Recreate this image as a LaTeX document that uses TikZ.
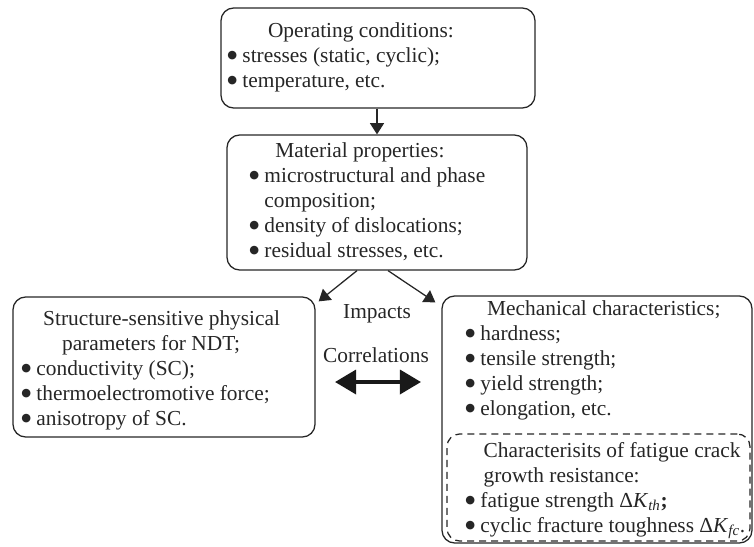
\documentclass[tikz,border=0pt]{standalone}
\usepackage{fontspec}
\setmainfont{Liberation Serif}
\newfontfamily\symfont{DejaVu Sans}
\usetikzlibrary{arrows.meta,fit,calc}

\newcommand{\bul}{\raisebox{2.6pt}{\symfont\fontsize{8}{8}\selectfont ●}}

\tikzset{
  box/.style={draw=black!85, line width=0.9pt, rounded corners=9pt, inner sep=0pt},
  dashbox/.style={box, dash pattern=on 5pt off 3.5pt},
  txt/.style={anchor=base west, inner sep=0pt, text=black!85,
    font=\fontsize{15.2}{17.8}\selectfont},
  lbl/.style={txt, anchor=base},
  arr/.style={draw=black!85, line width=0.9pt, -{Triangle[length=8pt,width=10pt]}},
  dbl/.style={draw=black!90, line width=2.8pt,
    {Triangle[length=15pt,width=17pt]}-{Triangle[length=15pt,width=17pt]}}
}

\begin{document}
\begin{tikzpicture}[x=0.025cm,y=-0.025cm]
  \useasboundingbox (0,0) rectangle (754,546);
  % boxes
  \node [box, fit={(221,8) (535,108)}] (oper) {};
  \node [box, fit={(227,135) (527,270)}] (mat) {};
  \node [box, fit={(13,297) (315,437)}] (sens) {};
  \node [box, fit={(442,296) (752,543)}] (mech) {};
  \node [dashbox, fit={(447,434) (750,541)}] (fat) {};
  % texts
  \node [txt] (opertxt) at (227,37) {\begin{tabular}[t]{@{}l@{}}
    \hspace*{29pt}Operating conditions:\\
    \bul\ stresses (static, cyclic);\\
    \bul\ temperature, etc.\end{tabular}};
  \node [txt] (mattxt) at (249,157) {\begin{tabular}[t]{@{}l@{}}
    \hspace*{18.5pt}Material properties:\\
    \bul\ microstructural and phase\\
    \phantom{\bul}\ composition;\\
    \bul\ density of dislocations;\\
    \bul\ residual stresses, etc.\end{tabular}};
  \node [txt] (senstxt) at (21,325) {\begin{tabular}[t]{@{}l@{}}
    \hspace*{15.6pt}Structure-sensitive physical\\
    \hspace*{29pt}parameters for NDT;\\
    \bul\ conductivity (SC);\\
    \bul\ thermoelectromotive force;\\
    \bul\ anisotropy of SC.\end{tabular}};
  \node [txt] (mechtxt) at (465,315) {\begin{tabular}[t]{@{}l@{}}
    \hspace*{15.6pt}Mechanical characteristics;\\
    \bul\ hardness;\\
    \bul\ tensile strength;\\
    \bul\ yield strength;\\
    \bul\ elongation, etc.\end{tabular}};
  \node [txt] (fattxt) at (465,457) {\begin{tabular}[t]{@{}l@{}}
    \hspace*{13pt}Characterisits of fatigue crack\\
    \hspace*{13pt}growth resistance:\\
    \bul\ fatigue strength Δ\textit{K}\textsubscript{\textit{th}}\textbf{;}\\
    \bul\ cyclic fracture toughness Δ\textit{K}\textsubscript{\textit{fc}}.\end{tabular}};
  \node [lbl] (imp) at (377,318) {Impacts};
  \node [lbl] (corr) at (376,362) {Correlations};
  % arrows
  \draw [arr] (oper.south -| mat.north) -- (mat.north);
  \draw [arr] ($(mat.south)+(-20,0)$) -- ($(sens.north east)+(3,5)$);
  \draw [arr] ($(mat.south)+(11,0)$) -- ($(mech.north west)+(-6,7)$);
  \coordinate (cl) at (335,382);
  \coordinate (cr) at (421,382);
  \draw [dbl] (cl) -- (cr);
\end{tikzpicture}
\end{document}
